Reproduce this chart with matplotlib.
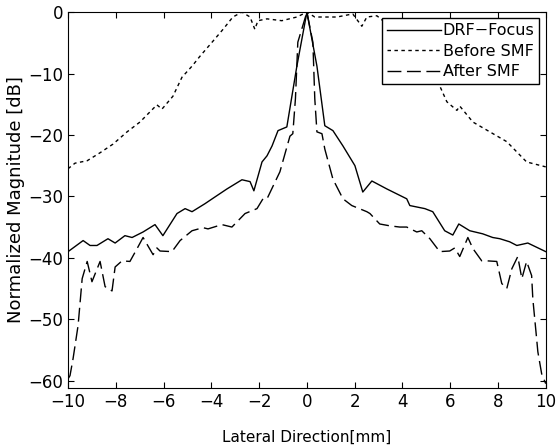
import numpy as np
import matplotlib
matplotlib.use("Agg")
import matplotlib.pyplot as plt

# values (mm, dB)
drf_x = [-10.0, -9.37, -9.08, -8.79, -8.33, -8.03, -7.62, -7.32, -6.86, -6.36,
         -6.03, -5.44, -5.1, -4.81, -4.27, -3.85, -3.35, -2.72, -2.38, -2.22,
         -1.88, -1.67, -1.46, -1.21, -0.84, -0.42, 0.0,
         0.42, 0.75, 1.09, 1.51, 2.01, 2.34, 2.72, 3.35, 4.18, 4.31, 4.94,
         5.27, 5.77, 6.11, 6.36, 6.82, 7.36, 7.78, 8.08, 8.49, 8.79, 9.25, 10.0]
drf_db = [-39, -37.2, -38, -38, -36.9, -37.6, -36.4, -36.7, -35.8, -34.6,
          -36.4, -32.8, -32, -32.5, -31.2, -30.1, -28.8, -27.3, -27.6, -29.1,
          -24.4, -23.4, -21.8, -19.3, -18.7, -8.8, 0,
          -8.8, -18.5, -19.3, -21.8, -25, -29.3, -27.5, -28.8, -30.4, -31.5, -32,
          -32.5, -35.6, -36.3, -34.5, -35.6, -36.1, -36.7, -36.9, -37.4, -38, -37.6, -39]

before_x = [-10.0, -9.71, -9.2, -8.66, -8.12, -7.53, -6.99, -6.28, -6.07, -5.61,
            -5.23, -4.81, -4.48, -3.97, -3.51, -3.1, -2.72, -2.38, -2.18, -2.05,
            -1.67, -1.05, -0.42, 0.0,
            0.33, 1.26, 1.92, 2.3, 2.51, 2.93, 3.47, 4.0, 4.5, 5.0, 5.56, 5.86,
            6.28, 6.4, 6.95, 7.66, 8.37, 9.2, 10.0]
before_db = [-25.5, -24.6, -24.2, -22.9, -21.5, -19.5, -17.9, -15.1, -15.8, -13.7,
             -10.6, -8.8, -7.2, -4.9, -2.8, -0.8, 0, -0.8, -2.8, -1.4,
             -1.1, -1.4, -0.8, 0,
             -0.8, -0.8, -0.3, -2.3, -0.8, -0.6, -2.3, -4.5, -7.0, -9.5, -12, -14.6,
             -16, -15.3, -17.9, -19.5, -21.1, -24.4, -25.2]

after_x = [-10.0, -9.92, -9.79, -9.58, -9.41, -9.2, -9.0, -8.66, -8.45, -8.16,
           -8.03, -7.74, -7.41, -7.11, -6.86, -6.44, -6.28, -6.15, -5.65, -5.31,
           -4.81, -4.35, -4.14, -3.56, -3.14, -2.59, -2.09, -1.84, -1.67, -1.13,
           -0.71, -0.59, -0.48, -0.38, 0.0,
           0.25, 0.33, 0.42, 0.63, 0.75, 1.09, 1.51, 1.88, 2.51, 2.64, 3.05,
           3.47, 3.89, 4.18, 4.6, 4.81, 5.15, 5.56, 5.98, 6.19, 6.4, 6.74, 6.95,
           7.32, 7.53, 7.95, 8.16, 8.37, 8.58, 8.83, 9.0, 9.2, 9.41, 9.46, 9.62,
           9.67, 9.83, 10.0]
after_db = [-59.7, -59.2, -56.4, -51, -43.4, -40.6, -43.9, -40.6, -44.7, -45.4,
            -41.5, -40.5, -40.6, -38.5, -36.7, -39.5, -38.4, -38.9, -39, -37.2,
            -35.6, -35.1, -35.3, -34.6, -35, -32.8, -32, -30.4, -30.4, -26,
            -20.2, -19.8, -14.1, -4.9, 0,
            -4.9, -14.1, -19.5, -19.8, -22.3, -27.2, -30.4, -31.5, -32.5, -32.8, -34.5,
            -34.8, -35, -35, -35.8, -35.6, -36.9, -39, -38.9, -38.4, -39.8, -36.7, -38.5,
            -40.5, -40.5, -40.6, -44.2, -45, -41.8, -39.8, -43.4, -40.6, -42.9, -46.7, -53.2,
            -55.3, -58.9, -60.5]

xticks = np.arange(-10, 11, 2)
yticks = np.arange(-60, 1, 10)

plt.rcParams['font.family'] = ['DejaVu Sans']

fig = plt.figure(figsize=(5.58, 4.48), dpi=100)
ax = fig.add_axes([0.122, 0.134, 0.856, 0.839])

ax.plot(drf_x, drf_db, color='black', lw=1.0, label='DRF\u2212Focus')
ax.plot(before_x, before_db, color='black', lw=1.0, linestyle=(0, (2.5, 2.5)),
        label='Before SMF')
ax.plot(after_x, after_db, color='black', lw=1.0, linestyle=(0, (10, 4)),
        label='After SMF')

ax.set_xlim(-10, 10)
ax.set_ylim(-61.2, 0)
ax.set_xticks(xticks)
ax.set_yticks(yticks)
ax.set_xticklabels([str(v).replace('-', '\u2212') for v in xticks])
ax.set_yticklabels([str(v).replace('-', '\u2212') for v in yticks])
ax.tick_params(direction='in', top=True, right=True, labelsize=12, length=4)

ax.set_xlabel('Lateral Direction[mm]', fontsize=11, labelpad=14)
ax.set_ylabel('Normalized Magnitude [dB]', fontsize=13, labelpad=2)

leg = ax.legend(loc='upper right', fontsize=11.5, handlelength=3.4, handletextpad=0.1,
                borderaxespad=0.4, borderpad=0.3, labelspacing=0.35,
                fancybox=False, framealpha=1)
leg.get_frame().set_edgecolor('black')
leg.get_frame().set_linewidth(1.0)

fig.savefig('out.png', dpi=100)
